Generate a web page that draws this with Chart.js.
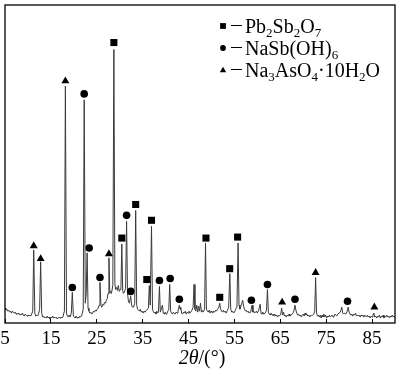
<!DOCTYPE html>
<html>
<head>
<meta charset="utf-8">
<script src="https://cdn.jsdelivr.net/npm/chart.js@4.4.0/dist/chart.umd.min.js"></script>
<style>
  html, body { margin: 0; padding: 0; background: #fff; }
  #wrap { position: relative; width: 400px; height: 370px; }
</style>
</head>
<body>
<div id="wrap"><canvas id="xrd"></canvas></div>
<script>
// ------------------------------------------------------------
// XRD pattern
// ------------------------------------------------------------

// [2theta (deg), intensity (a.u.)]
const xrdScan = [
  [5.0,15],[5.2,13],[5.4,14],[5.6,12],[5.8,13],[6.0,11],[6.2,12],[6.4,10],[6.6,12],[6.8,11],
  [7.0,10],[7.2,11],[7.4,9],[7.6,10],[7.8,9],[8.0,10],[8.2,8],[8.4,9],[8.6,8],[8.8,10],
  [9.0,8],[9.2,7],[9.4,9],[9.6,8],[9.8,7],[10.0,8],[10.2,7],[10.4,8],[10.6,7],[10.8,9],
  [11.05,12],[11.26,74],[11.5,10],[11.7,7],[11.9,8],[12.1,7],[12.3,9],[12.55,14],[12.77,62],[13.0,10],
  [13.2,6],[13.4,7],[13.6,5],[13.8,6],[14.0,5],[14.2,7],[14.4,5],[14.6,6],[14.8,4],[15.0,6],
  [15.2,5],[15.4,7],[15.6,5],[15.8,6],[16.0,5],[16.2,6],[16.4,4],[16.6,5],[16.8,6],[17.0,5],
  [17.2,6],[17.4,5],[17.6,6],[17.95,12],[18.16,240],[18.4,10],[18.6,7],[18.8,6],[19.0,8],[19.2,6],
  [19.45,10],[19.67,31],[19.9,7],[20.1,6],[20.3,5],[20.5,7],[20.7,5],[20.9,6],[21.1,5],[21.3,7],
  [21.5,6],[21.75,8],[22.05,14],[22.26,226],[22.5,20],[22.7,30],[22.9,71],[23.1,15],[23.3,12],[23.5,10],
  [23.7,11],[23.9,9],[24.1,10],[24.3,12],[24.5,11],[24.7,13],[24.9,12],[25.1,14],[25.3,15],[25.5,18],
  [25.7,41],[25.9,18],[26.1,16],[26.3,19],[26.5,18],[26.7,21],[26.9,20],[27.1,23],[27.3,25],[27.45,30],
  [27.65,66],[27.85,30],[28.0,32],[28.2,30],[28.5,38],[28.73,277],[28.95,40],[29.1,34],[29.3,36],[29.5,33],
  [29.7,38],[29.9,32],[30.1,34],[30.27,36],[30.46,80],[30.65,33],[30.8,30],[31.0,31],[31.28,35],[31.5,103],
  [31.7,30],[31.9,22],[32.1,20],[32.4,27],[32.6,18],[32.8,16],[33.0,16],[33.27,20],[33.48,114],[33.7,18],
  [33.9,14],[34.1,13],[34.3,12],[34.5,14],[34.7,11],[34.9,12],[35.1,10],[35.3,12],[35.5,11],[35.7,12],
  [36.0,14],[36.25,15],[36.45,38],[36.65,18],[36.93,98],[37.15,14],[37.3,12],[37.5,10],[37.7,11],[37.9,9],
  [38.1,12],[38.3,10],[38.45,12],[38.66,37],[38.85,11],[39.05,14],[39.3,18],[39.5,10],[39.7,9],[39.9,11],
  [40.1,9],[40.3,10],[40.5,12],[40.7,14],[40.9,39],[41.1,12],[41.3,10],[41.5,9],[41.7,11],[41.9,10],
  [42.1,9],[42.3,11],[42.5,10],[42.7,12],[42.85,15],[43.0,18],[43.15,14],[43.3,16],[43.5,10],[43.7,9],
  [43.9,11],[44.1,10],[44.3,12],[44.5,9],[44.7,11],[44.9,10],[45.1,12],[45.3,10],[45.5,11],[45.75,13],
  [46.0,16],[46.2,39],[46.4,14],[46.6,12],[46.8,18],[47.0,11],[47.2,17],[47.4,12],[47.6,20],[47.8,11],
  [48.0,13],[48.2,11],[48.5,14],[48.7,81],[48.9,14],[49.1,12],[49.3,11],[49.5,13],[49.7,10],[49.9,12],
  [50.1,11],[50.3,10],[50.5,12],[50.7,11],[50.9,13],[51.1,12],[51.3,14],[51.55,15],[51.8,20],[52.0,14],
  [52.2,12],[52.4,11],[52.6,13],[52.8,11],[53.0,12],[53.2,10],[53.5,13],[53.75,16],[54.0,50],[54.2,14],
  [54.4,11],[54.6,12],[54.8,10],[55.0,11],[55.3,14],[55.55,16],[55.8,81],[56.0,18],[56.2,14],[56.4,17],
  [56.6,20],[56.8,23],[57.0,17],[57.2,14],[57.4,12],[57.6,13],[57.8,11],[58.0,12],[58.2,10],[58.4,11],
  [58.6,13],[58.85,18],[59.05,11],[59.2,12],[59.4,10],[59.6,11],[59.8,12],[60.0,10],[60.3,13],[60.6,19],
  [60.8,10],[61.0,9],[61.2,11],[61.4,9],[61.7,10],[62.0,13],[62.2,34],[62.4,11],[62.6,9],[62.8,8],
  [63.0,10],[63.2,8],[63.4,9],[63.6,7],[63.8,9],[64.0,7],[64.2,8],[64.4,6],[64.6,8],[64.8,7],
  [65.1,9],[65.3,15],[65.5,8],[65.7,11],[65.9,7],[66.1,8],[66.3,6],[66.5,8],[66.7,7],[66.9,9],
  [67.1,7],[67.3,8],[67.6,9],[67.9,11],[68.2,18],[68.4,13],[68.6,10],[68.8,8],[69.0,9],[69.2,7],
  [69.4,8],[69.6,6],[69.8,8],[70.0,9],[70.2,7],[70.4,10],[70.6,8],[70.8,9],[71.0,7],[71.2,8],
  [71.4,6],[71.6,8],[71.8,7],[72.0,8],[72.3,9],[72.5,12],[72.7,46],[72.9,10],[73.1,7],[73.3,8],
  [73.5,6],[73.7,8],[73.9,5],[74.1,8],[74.3,6],[74.5,9],[74.7,6],[74.9,8],[75.1,5],[75.3,7],
  [75.5,6],[75.7,8],[75.9,6],[76.1,7],[76.3,8],[76.5,6],[76.7,7],[76.9,9],[77.1,8],[77.3,7],
  [77.5,9],[77.8,10],[78.1,11],[78.4,16],[78.6,10],[78.8,9],[79.0,10],[79.3,9],[79.6,12],[79.8,16],
  [80.0,11],[80.2,9],[80.4,8],[80.6,9],[80.8,7],[81.0,9],[81.2,8],[81.4,10],[81.6,7],[81.8,8],
  [82.0,7],[82.2,8],[82.4,6],[82.6,8],[82.8,7],[83.0,8],[83.2,6],[83.4,8],[83.6,7],[83.8,6],
  [84.0,8],[84.2,6],[84.4,7],[84.6,5],[84.8,7],[85.0,6],[85.2,8],[85.4,10],[85.6,6],[85.8,7],
  [86.0,5],[86.2,7],[86.4,6],[86.6,8],[86.8,5],[87.0,7],[87.2,6],[87.4,8],[87.6,5],[87.8,7],
  [88.0,6],[88.2,8],[88.4,6],[88.6,7],[88.8,5],[89.0,7],[89.2,6],[89.4,8],[89.6,6],[89.8,7],
  [90.0,6]
];

// phase markers: [2theta, height of the symbol]
const pbSbMarks = [
  [28.73,284],[30.46,86],[33.48,120],[35.9,44],[36.93,104],[48.8,86],[51.8,26],[53.97,55],[55.7,87]
];
const naSbMarks = [
  [19.67,36],[22.26,232],[23.34,76],[25.7,46],[31.5,109],[32.4,32],[38.66,43],[41.0,45],
  [43.0,24],[58.7,23],[62.2,39],[68.2,24],[79.65,22]
];
const naAsMarks = [
  [11.26,78],[12.77,65],[18.16,245],[27.65,70],[65.4,21],[72.7,51],[85.5,16]
];

const angleTicks = [5, 15, 25, 35, 45, 55, 65, 75, 85];

// {n} = subscript
const legendLabels = ["Pb{2}Sb{2}O{7}", "NaSb(OH){6}", "Na{3}AsO{4}\u00b710H{2}O"];
const legendMarks = ["rect", "circle", "triangle"];

const SERIF = "'Liberation Serif', 'Times New Roman', Times, serif";
const INK = "#000";

function toPoints(pairs) {
  return pairs.map(p => ({ x: p[0], y: p[1] }));
}

function drawMark(ctx, style, x, y, r) {
  ctx.beginPath();
  if (style === "rect") {
    ctx.rect(x - r, y - r, 2 * r, 2 * r);
  } else if (style === "circle") {
    ctx.arc(x, y, r, 0, Math.PI * 2);
  } else {
    ctx.moveTo(x, y - r * 1.1);
    ctx.lineTo(x + r * 1.1, y + r * 0.8);
    ctx.lineTo(x - r * 1.1, y + r * 0.8);
    ctx.closePath();
  }
  ctx.fill();
}

function drawRich(ctx, str, x, y, size) {
  const parts = str.split(/\{([^}]*)\}/);
  parts.forEach((p, i) => {
    if (!p) return;
    const sub = i % 2 === 1;
    ctx.font = (sub ? Math.round(size * 0.65) : size) + "px " + SERIF;
    ctx.fillText(p, x, sub ? y + size * 0.22 : y);
    x += ctx.measureText(p).width;
  });
  return x;
}

const decorPlugin = {
  id: "decor",
  afterDraw(chart) {
    const ctx = chart.ctx;
    const a = chart.chartArea;
    ctx.save();
    // frame
    ctx.strokeStyle = INK;
    ctx.lineWidth = 1.3;
    ctx.strokeRect(a.left, a.top, a.right - a.left, a.bottom - a.top);

    // legend
    ctx.fillStyle = INK;
    ctx.textBaseline = "alphabetic";
    legendLabels.forEach((lab, i) => {
      const base = 33 + i * 22;
      drawMark(ctx, legendMarks[i], 223, base - 7, 2.9);
      ctx.lineWidth = 1;
      ctx.beginPath();
      ctx.moveTo(231, base - 7.5);
      ctx.lineTo(242, base - 7.5);
      ctx.stroke();
      drawRich(ctx, lab, 245, base, 20);
    });

    // axis title: 2θ/(°)
    ctx.font = "italic 20px " + SERIF;
    const t1 = "2\u03b8";
    const t2 = "/(\u00b0)";
    const w1 = ctx.measureText(t1).width;
    ctx.font = "20px " + SERIF;
    const w2 = ctx.measureText(t2).width;
    const x0 = 202 - (w1 + w2) / 2;
    ctx.font = "italic 20px " + SERIF;
    ctx.fillText(t1, x0, 364);
    ctx.font = "20px " + SERIF;
    ctx.fillText(t2, x0 + w1, 364);
    ctx.restore();
  }
};

new Chart(document.getElementById("xrd"), {
  type: "scatter",
  data: {
    datasets: [
      { data: toPoints(xrdScan), showLine: true, pointRadius: 0, borderColor: "#3a3a3a", borderWidth: 1, tension: 0, order: 2 },
      { data: toPoints(pbSbMarks), pointStyle: "rect", pointRadius: 5, backgroundColor: INK, borderWidth: 0, order: 1 },
      { data: toPoints(naSbMarks), pointStyle: "circle", pointRadius: 3.8, backgroundColor: INK, borderWidth: 0, order: 1 },
      { data: toPoints(naAsMarks), pointStyle: "triangle", pointRadius: 4.6, backgroundColor: INK, borderWidth: 0, order: 1 },
    ]
  },
  options: {
    responsive: true,
    maintainAspectRatio: false,
    animation: false,
    layout: { padding: { left: 5, right: 1, top: 1, bottom: 0 } },
    plugins: { legend: { display: false }, tooltip: { enabled: false } },
    scales: {
      x: {
        type: "linear",
        min: 5,
        max: 90,
        afterBuildTicks: s => { s.ticks = angleTicks.map(v => ({ value: v })); },
        afterFit: s => { s.height = 47; s.paddingLeft = 0; s.paddingRight = 0; },
        ticks: { color: INK, font: { family: SERIF, size: 19 }, padding: 9, maxRotation: 0, autoSkip: false },
        grid: { drawOnChartArea: false, drawTicks: true, tickLength: -4, color: INK, lineWidth: 1 },
        border: { display: false },
      },
      y: { display: false, min: 0, max: 322 },
    }
  },
  plugins: [decorPlugin]
});
</script>
</body>
</html>
